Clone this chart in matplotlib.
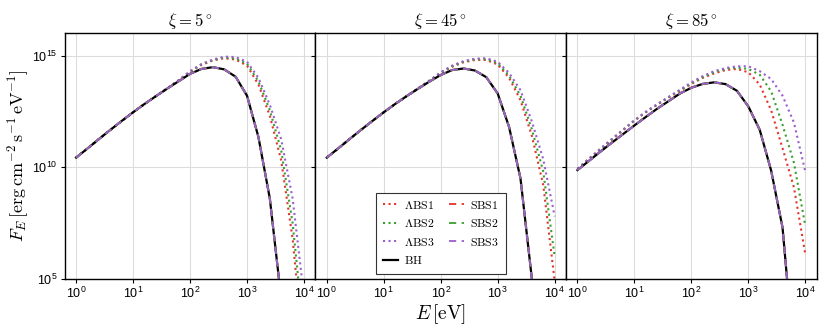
import numpy as np
import matplotlib
matplotlib.use("Agg")
import matplotlib.pyplot as plt

plt.rcParams['font.family'] = ['Liberation Sans', 'DejaVu Sans']
plt.rcParams['mathtext.fontset'] = 'cm'

# photon energy grid, log10(E / eV)
log_e = [0.0, 0.2, 0.4, 0.6, 0.8, 1.0, 1.2, 1.4, 1.6, 1.8, 2.0,
         2.2, 2.4, 2.6, 2.8, 3.0, 3.2, 3.4, 3.6, 3.8, 4.0]

titles = [r'$\xi = 5^\circ$', r'$\xi = 45^\circ$', r'$\xi = 85^\circ$']

# log10(F_E), xi = 5 deg
bh_5 = [10.43, 10.84, 11.26, 11.67, 12.07, 12.46, 12.83, 13.18, 13.52, 13.85, 14.18,
        14.40, 14.48, 14.38, 14.05, 13.20, 11.35, 8.60, 4.10, -0.5, -6.0]
abs1_5 = [10.43, 10.84, 11.26, 11.67, 12.07, 12.46, 12.83, 13.18, 13.53, 13.88, 14.27,
          14.58, 14.78, 14.88, 14.82, 14.55, 13.70, 12.30, 10.30, 6.80, 1.50]
abs2_5 = [10.43, 10.84, 11.26, 11.67, 12.07, 12.46, 12.83, 13.18, 13.53, 13.89, 14.28,
          14.60, 14.80, 14.91, 14.87, 14.63, 13.85, 12.55, 10.75, 7.50, 2.50]
abs3_5 = [10.43, 10.84, 11.26, 11.67, 12.07, 12.46, 12.83, 13.18, 13.54, 13.90, 14.30,
          14.62, 14.82, 14.95, 14.93, 14.72, 14.00, 12.80, 11.25, 8.60, 4.20]

# log10(F_E), xi = 45 deg
bh_45 = [10.43, 10.84, 11.26, 11.67, 12.07, 12.46, 12.83, 13.18, 13.51, 13.83, 14.13,
         14.35, 14.42, 14.33, 14.03, 13.30, 11.80, 9.50, 5.00, 0.30, -5.5]
abs1_45 = [10.43, 10.84, 11.26, 11.67, 12.07, 12.46, 12.83, 13.18, 13.52, 13.86, 14.22,
           14.50, 14.70, 14.80, 14.80, 14.60, 14.00, 13.00, 11.40, 9.20, 4.90]
abs2_45 = [10.43, 10.84, 11.26, 11.67, 12.07, 12.46, 12.83, 13.18, 13.52, 13.87, 14.23,
           14.52, 14.72, 14.83, 14.84, 14.66, 14.10, 13.20, 11.70, 9.80, 6.00]
abs3_45 = [10.43, 10.84, 11.26, 11.67, 12.07, 12.46, 12.83, 13.18, 13.53, 13.88, 14.25,
           14.55, 14.75, 14.86, 14.88, 14.72, 14.22, 13.45, 12.05, 10.35, 7.80]

# log10(F_E), xi = 85 deg
bh_85 = [9.87, 10.28, 10.69, 11.09, 11.48, 11.87, 12.25, 12.62, 12.96, 13.30, 13.56,
         13.73, 13.80, 13.72, 13.42, 12.72, 11.67, 9.85, 7.30, 1.50, -5.0]
abs1_85 = [9.92, 10.36, 10.80, 11.23, 11.66, 12.08, 12.46, 12.80, 13.12, 13.42, 13.73,
           14.00, 14.20, 14.35, 14.40, 14.25, 13.70, 12.55, 10.85, 9.10, 6.10]
abs2_85 = [9.92, 10.37, 10.81, 11.24, 11.67, 12.09, 12.47, 12.81, 13.13, 13.44, 13.76,
           14.03, 14.25, 14.40, 14.46, 14.40, 14.14, 13.40, 11.90, 10.20, 7.37]
abs3_85 = [9.93, 10.38, 10.82, 11.25, 11.68, 12.10, 12.48, 12.82, 13.15, 13.47, 13.80,
           14.08, 14.30, 14.44, 14.52, 14.52, 14.30, 13.95, 13.20, 12.00, 9.80]

# solitonic BS spectra lie on top of the BH ones
sbs1_5, sbs2_5, sbs3_5 = bh_5, bh_5, bh_5
sbs1_45, sbs2_45, sbs3_45 = bh_45, bh_45, bh_45
sbs1_85, sbs2_85, sbs3_85 = bh_85, bh_85, bh_85

panels = [
    (abs1_5, abs2_5, abs3_5, bh_5, sbs1_5, sbs2_5, sbs3_5),
    (abs1_45, abs2_45, abs3_45, bh_45, sbs1_45, sbs2_45, sbs3_45),
    (abs1_85, abs2_85, abs3_85, bh_85, sbs1_85, sbs2_85, sbs3_85),
]

red, green, purple = '#e3342c', '#3a9e30', '#9a5fcc'

E = 10 ** np.array(log_e)

fig, axes = plt.subplots(1, 3, figsize=(8.3, 3.32), dpi=100, sharey=True)
fig.subplots_adjust(left=0.078, right=0.984, bottom=0.16, top=0.9, wspace=0)

for ax, title, data in zip(axes, titles, panels):
    a1, a2, a3, bh, s1, s2, s3 = [10 ** np.array(v) for v in data]
    ax.plot(E, a1, ':', color=red, lw=1.5, label=r'$\Lambda\mathrm{BS1}$')
    ax.plot(E, a2, ':', color=green, lw=1.5, label=r'$\Lambda\mathrm{BS2}$')
    ax.plot(E, a3, ':', color=purple, lw=1.5, label=r'$\Lambda\mathrm{BS3}$')
    ax.plot(E, bh, '-', color='black', lw=1.6, label=r'$\mathrm{BH}$')
    ax.plot(E, s1, '--', color=red, lw=1.3, dashes=(4, 3), label=r'$\mathrm{SBS1}$')
    ax.plot(E, s2, '--', color=green, lw=1.3, dashes=(4, 3), label=r'$\mathrm{SBS2}$')
    ax.plot(E, s3, '--', color=purple, lw=1.3, dashes=(4, 3), label=r'$\mathrm{SBS3}$')

    ax.set_xscale('log')
    ax.set_yscale('log')
    ax.set_xlim(10 ** -0.2, 10 ** 4.2)
    ax.set_ylim(1e5, 1e16)
    ax.set_xticks([1e0, 1e1, 1e2, 1e3, 1e4])
    ax.set_yticks([1e5, 1e10, 1e15])
    ax.minorticks_off()
    ax.grid(True, color='#dcdcdc', lw=0.8)
    ax.set_axisbelow(True)
    ax.tick_params(direction='out', length=3, width=0.8, labelsize=9, pad=2)
    for s in ax.spines.values():
        s.set_linewidth(1.0)
    ax.set_title(title, fontsize=12, pad=5)

axes[0].set_ylabel(r'$F_E\,[\mathrm{erg\,cm^{-2}\,s^{-1}\,eV^{-1}}]$', fontsize=13, labelpad=1)
axes[1].set_xlabel(r'$E\,[\mathrm{eV}]$', fontsize=14, labelpad=1)

leg = axes[1].legend(ncol=2, loc='lower center', bbox_to_anchor=(0.5, 0.0),
                     fontsize=8.5, fancybox=False, framealpha=1, edgecolor='#333333',
                     handlelength=1.3, handletextpad=0.5, columnspacing=1.2,
                     labelspacing=0.55, borderpad=0.6, borderaxespad=0.4)
leg.get_frame().set_linewidth(0.8)

fig.savefig('out.png', dpi=100)
